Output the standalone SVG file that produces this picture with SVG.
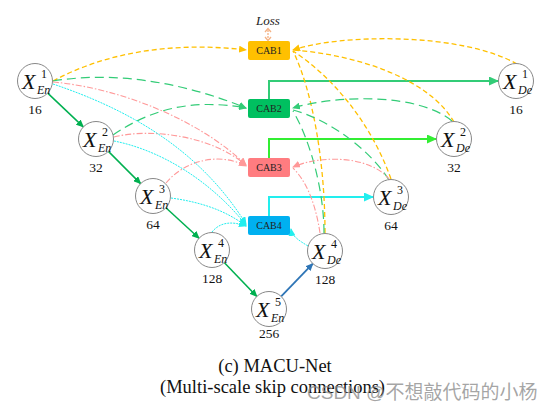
<svg xmlns="http://www.w3.org/2000/svg" width="550" height="407" viewBox="0 0 550 407">
<style>
.node circle{fill:#fff;stroke:#888;stroke-width:1}
.X{font-family:"Liberation Serif",serif;font-style:italic;font-size:22px;fill:#111}
.sup{font-family:"Liberation Serif",serif;font-size:12px;fill:#111}
.sub{font-family:"Liberation Serif",serif;font-style:italic;font-size:12px;fill:#111}
.num{font-family:"Liberation Serif",serif;font-size:13.5px;fill:#111;text-anchor:middle}
.cab text{font-family:"Liberation Serif",serif;font-size:10px;fill:#222;text-anchor:middle}
.or{fill:none;stroke:#FFC000;stroke-width:1.3;stroke-dasharray:5 3}
.gr{fill:none;stroke:#33CC77;stroke-width:1.2;stroke-dasharray:9 5}
.pk{fill:none;stroke:#FF9999;stroke-width:1.1;stroke-dasharray:6 2 1.5 2}
.cy{fill:none;stroke:#22EEEE;stroke-width:1;stroke-dasharray:2 1}
.cap{font-family:"Liberation Serif",serif;font-size:18.5px;fill:#111}
</style>
<defs>
<marker id="aOr" markerUnits="userSpaceOnUse" markerWidth="8" markerHeight="7" refX="7" refY="3.5" orient="auto"><path d="M0,0 L8,3.5 L0,7 z" fill="#FFC000"/></marker>
<marker id="aGr" markerUnits="userSpaceOnUse" markerWidth="8" markerHeight="7" refX="7" refY="3.5" orient="auto"><path d="M0,0 L8,3.5 L0,7 z" fill="#33CC77"/></marker>
<marker id="aPk" markerUnits="userSpaceOnUse" markerWidth="8" markerHeight="7" refX="7" refY="3.5" orient="auto"><path d="M0,0 L8,3.5 L0,7 z" fill="#FF9999"/></marker>
<marker id="aCy" markerUnits="userSpaceOnUse" markerWidth="8" markerHeight="7" refX="7" refY="3.5" orient="auto"><path d="M0,0 L8,3.5 L0,7 z" fill="#22EEEE"/></marker>
<marker id="aDg" markerUnits="userSpaceOnUse" markerWidth="8" markerHeight="7" refX="7" refY="3.5" orient="auto"><path d="M0,0 L8,3.5 L0,7 z" fill="#00B050"/></marker>
<marker id="aBl" markerUnits="userSpaceOnUse" markerWidth="8" markerHeight="7" refX="7" refY="3.5" orient="auto"><path d="M0,0 L8,3.5 L0,7 z" fill="#2E75B6"/></marker>
<marker id="aLg" markerUnits="userSpaceOnUse" markerWidth="10" markerHeight="9" refX="9" refY="4.5" orient="auto"><path d="M0,0 L10,4.5 L0,9 z" fill="#33CC77"/></marker>
<marker id="aBg" markerUnits="userSpaceOnUse" markerWidth="10" markerHeight="9" refX="9" refY="4.5" orient="auto"><path d="M0,0 L10,4.5 L0,9 z" fill="#33EE33"/></marker>
<marker id="aBc" markerUnits="userSpaceOnUse" markerWidth="10" markerHeight="9" refX="9" refY="4.5" orient="auto"><path d="M0,0 L10,4.5 L0,9 z" fill="#22EEEE"/></marker>
</defs>

<g id="connectors">
<path d="M47.7,93.1 L83.3,126.9" stroke="#00B050" stroke-width="1.5" fill="none" marker-end="url(#aDg)"/>
<path d="M108.4,151.4 L140.6,183.6" stroke="#00B050" stroke-width="1.5" fill="none" marker-end="url(#aDg)"/>
<path d="M165.9,207.8 L199.1,238.2" stroke="#00B050" stroke-width="1.5" fill="none" marker-end="url(#aDg)"/>
<path d="M224.2,262.6 L256.8,296.4" stroke="#00B050" stroke-width="1.5" fill="none" marker-end="url(#aDg)"/>
<path d="M281.2,296.4 L312.8,263.6" stroke="#2E75B6" stroke-width="1.8" fill="none" marker-end="url(#aBl)"/>
<path d="M269,99 V81 H498" stroke="#33CC77" stroke-width="2" fill="none" marker-end="url(#aLg)"/>
<path d="M269,158 V139 H436" stroke="#33EE33" stroke-width="2" fill="none" marker-end="url(#aBg)"/>
<path d="M269,216 V197 H373" stroke="#22EEEE" stroke-width="2" fill="none" marker-end="url(#aBc)"/>
<path d="M268,30 V39" stroke="#F4B183" stroke-width="1.3" stroke-dasharray="2 1" fill="none"/>
<path d="M265,32 L268,28.5 L271,32 M265,37 L268,40.5 L271,37" stroke="#F4B183" stroke-width="1.3" fill="none"/>
<path class="or" d="M53,81 C110,50 180,42 246,50" marker-end="url(#aOr)"/>
<path class="or" d="M517,64 C460,32 340,34 293,50" marker-end="url(#aOr)"/>
<path class="or" d="M454,122 C430,80 360,55 293,50"/>
<path class="or" d="M391,179 C370,120 330,75 293,51"/>
<path class="or" d="M325,233 C325,160 312,90 293,51"/>
<path class="gr" d="M53,81 C120,70 190,85 246,108" marker-end="url(#aGr)"/>
<path class="gr" d="M113,135 C150,110 190,98 246,108" marker-end="url(#aGr)"/>
<path class="gr" d="M452,121 C420,94 340,94 293,108" marker-end="url(#aGr)"/>
<path class="gr" d="M389,180 C370,150 330,120 293,110"/>
<path class="gr" d="M324,233 C324,190 310,140 293,111"/>
<path class="pk" d="M53,82 C120,88 200,120 246,165" marker-end="url(#aPk)"/>
<path class="pk" d="M114,137 C150,128 210,135 246,165" marker-end="url(#aPk)"/>
<path class="pk" d="M166,183 C185,160 220,152 246,166" marker-end="url(#aPk)"/>
<path class="pk" d="M390,180 C370,155 320,155 293,167" marker-end="url(#aPk)"/>
<path class="pk" d="M320,233 C315,200 305,180 293,168"/>
<path class="cy" d="M53,84 C130,110 200,150 246,224" marker-end="url(#aCy)"/>
<path class="cy" d="M114,141 C160,150 210,180 246,225" marker-end="url(#aCy)"/>
<path class="cy" d="M171,198 C200,202 225,210 246,226" marker-end="url(#aCy)"/>
<path class="cy" d="M212,232 C220,222 232,221 246,226" marker-end="url(#aCy)"/>
<path class="cy" d="M308,246 C298,240 292,236 291,229" marker-end="url(#aCy)"/>
</g>

<text x="268" y="25" font-family="Liberation Serif, serif" font-style="italic" font-size="13" fill="#222" text-anchor="middle">Loss</text>

<g id="CAB1" class="cab"><rect x="248" y="41" width="42" height="19" rx="2" fill="#FFC000"/><text x="269" y="54">CAB1</text></g>
<g id="CAB2" class="cab"><rect x="248" y="99" width="42" height="19" rx="2" fill="#00C060"/><text x="269" y="112">CAB2</text></g>
<g id="CAB3" class="cab"><rect x="248" y="158" width="42" height="19" rx="2" fill="#FF7C80"/><text x="269" y="171">CAB3</text></g>
<g id="CAB4" class="cab"><rect x="248" y="216" width="42" height="19" rx="2" fill="#00B0F0"/><text x="269" y="229">CAB4</text></g>

<g id="XEn1" class="node"><circle cx="35" cy="81" r="17.5"/><text class="X" x="22" y="89">X</text><text class="sup" x="41" y="78">1</text><text class="sub" x="37" y="94">En</text><text class="num" x="35" y="114">16</text></g>
<g id="XEn2" class="node"><circle cx="96" cy="139" r="17.5"/><text class="X" x="83" y="147">X</text><text class="sup" x="102" y="136">2</text><text class="sub" x="98" y="152">En</text><text class="num" x="96" y="172">32</text></g>
<g id="XEn3" class="node"><circle cx="153" cy="196" r="17.5"/><text class="X" x="140" y="204">X</text><text class="sup" x="159" y="193">3</text><text class="sub" x="155" y="209">En</text><text class="num" x="153" y="229">64</text></g>
<g id="XEn4" class="node"><circle cx="212" cy="250" r="17.5"/><text class="X" x="199" y="258">X</text><text class="sup" x="218" y="247">4</text><text class="sub" x="214" y="263">En</text><text class="num" x="212" y="283">128</text></g>
<g id="XEn5" class="node"><circle cx="269" cy="309" r="17.5"/><text class="X" x="256" y="317">X</text><text class="sup" x="275" y="306">5</text><text class="sub" x="271" y="322">En</text><text class="num" x="269" y="338">256</text></g>
<g id="XDe4" class="node"><circle cx="325" cy="251" r="17.5"/><text class="X" x="312" y="259">X</text><text class="sup" x="331" y="248">4</text><text class="sub" x="327" y="264">De</text><text class="num" x="325" y="284">128</text></g>
<g id="XDe3" class="node"><circle cx="391" cy="197" r="17.5"/><text class="X" x="378" y="205">X</text><text class="sup" x="397" y="194">3</text><text class="sub" x="393" y="210">De</text><text class="num" x="391" y="230">64</text></g>
<g id="XDe2" class="node"><circle cx="454" cy="139" r="17.5"/><text class="X" x="441" y="147">X</text><text class="sup" x="460" y="136">2</text><text class="sub" x="456" y="152">De</text><text class="num" x="454" y="172">32</text></g>
<g id="XDe1" class="node"><circle cx="516" cy="81" r="17.5"/><text class="X" x="503" y="89">X</text><text class="sup" x="522" y="78">1</text><text class="sub" x="518" y="94">De</text><text class="num" x="516" y="114">16</text></g>

<text class="cap" x="275" y="372" text-anchor="middle">(c) MACU-Net</text>
<text class="cap" x="160" y="393">(Multi-scale skip connections)</text>
<text x="307" y="399" font-family="Liberation Sans, 'Noto Sans CJK SC', sans-serif" font-size="19" fill="#888" fill-opacity="0.75">CSDN @不想敲代码的小杨</text>
</svg>
